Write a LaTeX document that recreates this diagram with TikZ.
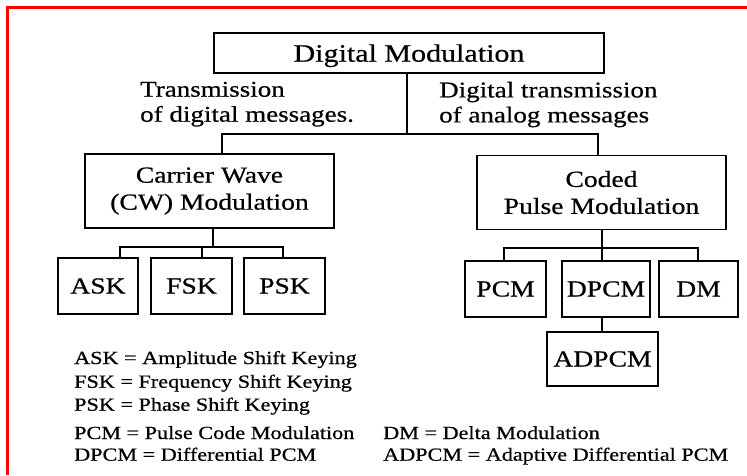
\documentclass[tikz,border=0pt]{standalone}
\usepackage{fontspec}
\setmainfont[FakeStretch=1.2,FakeBold=0.6]{Liberation Serif}
\newcommand\dmTitleFont{\fontsize{25}{30}\selectfont}
\newcommand\dmBoxFont{\fontsize{23}{27}\selectfont}
\newcommand\dmLabelFont{\fontsize{22.5}{25}\selectfont}
\newcommand\dmLegendFont{\fontsize{18.5}{23}\selectfont}
\begin{document}
\begin{tikzpicture}[x=1pt,y=-1pt,
  box/.style={draw, line width=1.5pt, inner sep=0pt, align=center, font=\dmBoxFont},
  small/.style={box, minimum height=56pt},
  conn/.style={line width=1.5pt},
  lbl/.style={inner sep=0pt, align=left, font=\dmLabelFont, anchor=north west},
  legend/.style={inner sep=0pt, font=\dmLegendFont, anchor=base west}]
\useasboundingbox (0,0) rectangle (747,475);
\fill[white] (0,0) rectangle (747,475);
% frame
\draw[red, line width=3pt] (7.5,475) -- (7.5,7.5) -- (747,7.5);
% boxes
\node[box, font=\dmTitleFont, minimum width=390pt, minimum height=40pt, text depth=0pt] (dmod) at (409,53) {Digital Modulation};
\node[box, minimum width=249pt, minimum height=74pt] (cw) at (209.5,191) {Carrier Wave\\(CW) Modulation};
\node[box, minimum width=249pt, minimum height=74pt] (cpm) at (601.5,192.5) {Coded\\Pulse Modulation};
\node[small, minimum width=80pt] (ask) at (98,286) {ASK};
\node[small, minimum width=81pt] (fsk) at (191.5,286) {FSK};
\node[small, minimum width=81pt] (psk) at (284.5,286) {PSK};
\node[small, minimum width=81pt] (pcm) at (505.5,289) {PCM};
\node[small, minimum width=88pt] (dpcm) at (606,289) {DPCM};
\node[small, minimum width=79pt] (dm) at (698.5,289) {DM};
\node[box, minimum width=111pt, minimum height=54pt] (adpcm) at (602.5,359) {ADPCM};
% junction coordinates
\coordinate (t) at (407,134);
\coordinate (tl) at (222,134);
\coordinate (tr) at (598,134);
\coordinate (lc) at (213,247);
\coordinate (la) at (120,247);
\coordinate (lf) at (202,247);
\coordinate (lp) at (283,247);
\coordinate (rc) at (602,248);
\coordinate (rp) at (504,248);
\coordinate (rd) at (698,248);
% connectors
\draw[conn] (dmod.south -| t) -- (t);
\draw[conn] (cw.north -| tl) -- (tl) -- (tr) -- (cpm.north -| tr);
\draw[conn] (cw.south -| lc) -- (lc);
\draw[conn] (ask.north -| la) -- (la) -- (lp) -- (psk.north -| lp);
\draw[conn] (lf) -- (fsk.north -| lf);
\draw[conn] (cpm.south -| rc) -- (rc);
\draw[conn] (pcm.north -| rp) -- (rp) -- (rd) -- (dm.north -| rd);
\draw[conn] (rc) -- (dpcm.north -| rc);
\draw[conn] (dpcm.south -| rc) -- (adpcm.north -| rc);
% branch labels
\node[lbl] (ltxt) at (140,81.6) {Transmission\\of digital messages.};
\node[lbl] (rtxt) at (439,81.6) {Digital transmission\\of analog messages};
% legend
\node[legend] (l1) at (74,364) {ASK = Amplitude Shift Keying};
\node[legend] (l2) at (74,387.7) {FSK = Frequency Shift Keying};
\node[legend] (l3) at (74,410.7) {PSK = Phase Shift Keying};
\node[legend] (l4) at (74,439) {PCM = Pulse Code Modulation};
\node[legend] (l5) at (74,460.7) {DPCM = Differential PCM};
\node[legend] (l6) at (383,439) {DM = Delta Modulation};
\node[legend] (l7) at (383,460.7) {ADPCM = Adaptive Differential PCM};
\end{tikzpicture}
\end{document}
